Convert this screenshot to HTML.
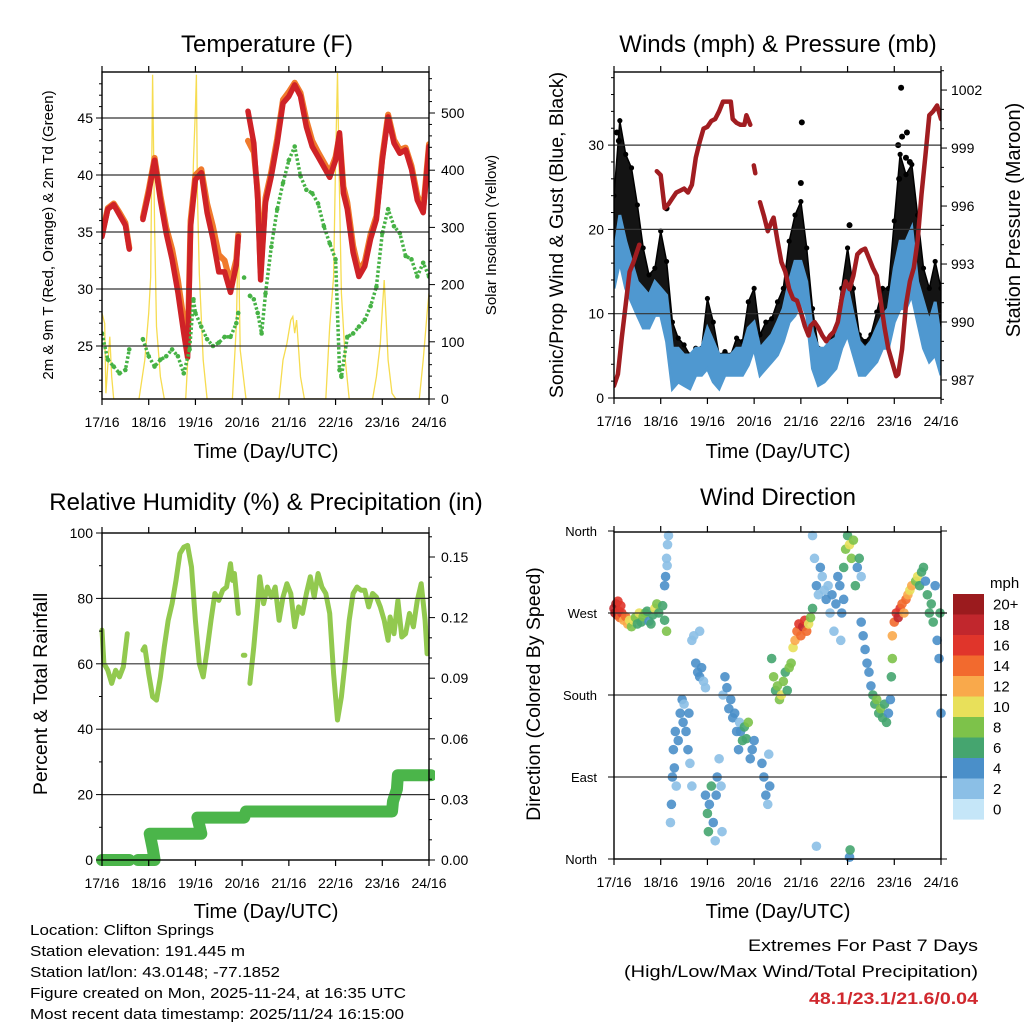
<!DOCTYPE html>
<html><head><meta charset="utf-8"><style>
html,body{margin:0;padding:0;background:#fff;}
svg{display:block;font-family:"Liberation Sans",Arial,sans-serif;}
</style></head><body>
<svg id="fig" width="1024" height="1024" viewBox="0 0 1024 1024" xmlns="http://www.w3.org/2000/svg">
<defs>
<clipPath id="cT"><rect x="102" y="72" width="327" height="327"/></clipPath>
<clipPath id="cW"><rect x="614" y="72" width="327" height="326"/></clipPath>
<clipPath id="cR"><rect x="96" y="527" width="339" height="339"/></clipPath>
<clipPath id="cD"><rect x="608" y="527" width="339" height="338"/></clipPath>
</defs>
<rect x="0" y="0" width="1024" height="1024" fill="#fff"/>

<text x="267" y="52" font-size="24" text-anchor="middle">Temperature (F)</text>
<text x="778" y="52" font-size="24" text-anchor="middle">Winds (mph) &amp; Pressure (mb)</text>
<text x="266" y="510" font-size="24" text-anchor="middle">Relative Humidity (%) &amp; Precipitation (in)</text>
<text x="778" y="505" font-size="24" text-anchor="middle">Wind Direction</text>

<text x="266" y="458" font-size="20" text-anchor="middle">Time (Day/UTC)</text>
<text x="778" y="458" font-size="20" text-anchor="middle">Time (Day/UTC)</text>
<text x="266" y="918" font-size="20" text-anchor="middle">Time (Day/UTC)</text>
<text x="778" y="918" font-size="20" text-anchor="middle">Time (Day/UTC)</text>
<text transform="translate(53,235) rotate(-90)" font-size="15" text-anchor="middle">2m &amp; 9m T (Red, Orange) &amp; 2m Td (Green)</text>
<text transform="translate(496,235) rotate(-90)" font-size="15" text-anchor="middle">Solar Insolation (Yellow)</text>
<text transform="translate(563,235) rotate(-90)" font-size="19.5" text-anchor="middle">Sonic/Prop Wind &amp; Gust (Blue, Black)</text>
<text transform="translate(1020,220) rotate(-90)" font-size="20" text-anchor="middle">Station Pressure (Maroon)</text>
<text transform="translate(47,694) rotate(-90)" font-size="19.5" text-anchor="middle">Percent &amp; Total Rainfall</text>
<text transform="translate(540,694) rotate(-90)" font-size="19.5" text-anchor="middle">Direction (Colored By Speed)</text>

<g id="dataLayer"></g>
<g id="axisLayer" stroke="#000" fill="none"></g>
<g id="labelLayer" font-size="14"></g>

<g id="colorbar"></g>
<text x="990" y="588" font-size="15">mph</text>

<text x="30" y="935" font-size="15" textLength="184" lengthAdjust="spacingAndGlyphs">Location: Clifton Springs</text>
<text x="30" y="956" font-size="15" textLength="215" lengthAdjust="spacingAndGlyphs">Station elevation: 191.445 m</text>
<text x="30" y="977" font-size="15" textLength="250" lengthAdjust="spacingAndGlyphs">Station lat/lon: 43.0148; -77.1852</text>
<text x="30" y="998" font-size="15" textLength="376" lengthAdjust="spacingAndGlyphs">Figure created on Mon, 2025-11-24, at 16:35 UTC</text>
<text x="30" y="1019" font-size="15" textLength="374" lengthAdjust="spacingAndGlyphs">Most recent data timestamp: 2025/11/24 16:15:00</text>
<text x="748" y="951" font-size="17" textLength="230" lengthAdjust="spacingAndGlyphs">Extremes For Past 7 Days</text>
<text x="624" y="977" font-size="17" textLength="354" lengthAdjust="spacingAndGlyphs">(High/Low/Max Wind/Total Precipitation)</text>
<text x="809" y="1004" font-size="17" font-weight="bold" fill="#d0282e" textLength="169" lengthAdjust="spacingAndGlyphs">48.1/23.1/21.6/0.04</text>
</svg>
<script>
const dayLabels = ["17/16","18/16","19/16","20/16","21/16","22/16","23/16","24/16"];
const tempTicks = [25,30,35,40,45];
const solarTicks = [0,100,200,300,400,500];
const windTicks = [0,10,20,30];
const presTicks = [987,990,993,996,999,1002];
const rhTicks = [0,20,40,60,80,100];
const rainTicks = [0,0.03,0.06,0.09,0.12,0.15];
const rainTickLabels = ["0.00","0.03","0.06","0.09","0.12","0.15"];
const dirTicks = [0,90,180,270,360];
const dirTickLabels = ["North","East","South","West","North"];
const speedBins = ["0","2","4","6","8","10","12","14","16","18","20+"];
const speedColors = ["#c5e6f8","#8bbfe6","#4a8fc9","#45a56f","#7dc24a","#e8e05a","#f9a94b","#f26a2e","#e0352b","#c1272d","#9b1b1e"];

const tempT = [0,3,6,9,12,14,17,21,24,27,30,33,36,39,42,44,45.5,48,51,54,57,60,63,66,69,70,72,75,78,80,81.5,84,87,90,93,96,99,102,105,108,111,114,117,120,122,124,126,129,132,135,138,141,144,147,150,153,156,159,162,165,168];
const tempRed = [34.6,37.0,37.4,36.5,35.6,33.5,null,36.1,38.4,41.3,37.8,34.9,32.6,29.7,26.1,24.0,35.5,39.6,40.2,36.7,34.4,31.5,31.5,29.7,32.1,34.6,null,45.6,42.8,37.8,30.8,37.6,39.9,42.8,46.3,46.9,47.9,46.9,44.2,42.5,41.6,40.7,39.8,41.3,43.7,38.4,37.0,33.2,31.1,32.0,34.4,36.1,41.3,45.1,42.8,41.9,42.2,40.5,37.8,36.7,42.5];
const tempOrange = [34.8,37.1,37.5,36.7,35.8,33.6,null,36.3,38.7,41.5,38.2,35.4,33.5,30.8,27.2,24.8,36.0,40.0,40.5,37.5,35.5,33.0,32.5,30.5,32.6,34.8,null,43.0,42.0,38.5,31.5,38.0,40.3,43.2,46.6,47.3,48.1,47.2,44.8,43.0,42.0,41.1,40.2,41.6,43.5,39.0,37.6,33.8,31.6,32.4,34.8,36.4,41.6,45.3,43.1,42.2,42.4,40.8,38.2,37.0,42.7];

const tdT = [0,3,6,9,12,14,17,21,24,27,30,33,36,39,42,45,47,48,51,54,57,60,63,66,69,70,72,73,74,76,78,80,82,84,87,90,93,96,99,102,105,108,111,114,117,120,122,123,126,129,132,135,138,141,144,147,150,153,156,159,162,165,168];
const tdV = [26.1,23.8,23.2,22.6,22.9,24.7,null,25.6,24.1,23.2,23.8,24.1,24.7,24.1,22.6,24.7,29.1,27.9,26.7,25.6,25.0,25.3,25.8,25.8,27.0,27.9,null,31.0,null,29.4,29.1,27.9,26.1,29.6,33.7,37.0,39.3,41.3,42.5,39.9,38.7,38.4,37.5,35.5,34.0,32.6,22.9,22.3,25.8,26.1,26.7,27.3,28.5,30.2,34.9,37.0,35.5,34.9,32.9,32.6,31.1,32.3,31.1];

const solT = [0,1.4,2,4,5,6,19,22,24,25,26,27,28,30,32,43,45,47,48,48.5,49,50,52,54,67,69,70,71,74,91,93,95,97,98,99,100,102,104,115,117,119,120,121,122,123,125,127,139,141,143,144,145,146,147,149,151,163,165,167,168];
const solV = [150,132,10,109,39,0,0,68,150,214,567,301,127,39,0,0,127,418,506,567,360,220,68,0,0,127,290,86,0,0,68,97,138,144,115,138,39,0,0,127,214,418,570,360,185,68,0,0,39,97,156,208,138,68,10,0,0,68,150,185];

const windT = [0,3,6,9,12,15,18,21,24,27,30,33,36,39,42,45,48,51,54,57,60,63,66,69,72,75,78,81,84,87,90,93,96,99,102,105,108,111,114,117,120,123,126,129,132,135,138,141,144,147,150,153,156,159,162,165,168];
const windLo = [13.0,16.2,13.0,11.4,9.8,8.3,8.3,9.8,9.8,6.7,1.1,1.9,1.5,1.1,2.7,2.7,3.5,1.9,1.1,2.7,2.7,2.7,2.7,3.9,5.9,2.7,3.5,4.3,5.1,6.7,9.0,9.8,11.4,9.8,3.5,1.5,1.9,2.7,3.5,5.9,7.5,5.1,2.7,2.7,3.5,4.3,5.9,5.9,9.0,10.6,10.6,12.2,9.0,5.9,4.3,5.1,2.7];
const windHi = [17.0,21.7,18.6,16.2,13.8,13.0,12.2,13.8,13.0,12.2,5.9,5.9,5.1,5.1,5.9,5.9,8.3,6.7,5.1,5.1,5.1,5.9,5.9,8.3,9.0,5.9,6.7,7.5,9.0,10.6,13.8,16.2,16.2,13.8,7.9,5.9,5.9,6.7,7.1,11.0,13.0,9.8,6.7,5.9,6.7,8.3,9.8,10.6,15.4,18.6,18.6,20.2,13.8,11.4,9.0,11.4,6.7];
const gustHi = [24.0,32.9,28.9,27.3,22.9,17.8,14.6,15.4,19.8,16.2,9.0,7.1,6.3,5.1,5.9,5.9,11.8,9.0,5.1,5.5,5.1,7.1,6.7,11.4,13.0,7.5,9.0,9.4,11.4,13.0,18.6,21.7,23.3,17.8,10.6,5.9,5.5,7.1,8.3,13.0,17.8,13.0,7.5,6.7,7.5,10.2,13.0,13.0,21.0,28.9,26.5,27.7,21.7,15.4,13.0,16.2,13.0];
const gustPeakT = [1.5,2.5,27,96.5,96,121,146,147.5,148,150,152,150.5,146.5];
const gustPeakV = [31.5,30.5,22.5,32.7,25.5,20.5,30.0,36.8,31.0,28.5,28.0,31.5,26.0];

const presT = [0,2,4,6,8,10,13,17,22,24,26,28,30,32,34,36,38,40,42,44,46,48,50,52,54,56,58,60,61,63,65,67,68,70,71,71.8,72.6,73,75,77,79,81,82,84,86,88,90,92,94,96,98,100,101,103,105,107,109,111,113,115,117,119,121,123,125,127,129,131,133,135,137,139,141,143,145,146,148,150,152,154,156,158,160,162,164,166,168];
const presV = [986.7,987.3,989.2,990.9,992.6,993.1,994.0,null,997.8,997.6,995.9,996.1,996.4,996.7,996.8,996.9,996.7,997.1,998.5,999.3,1000.0,1000.1,1000.4,1000.5,1000.9,1001.4,1001.4,1001.4,1000.5,1000.3,1000.2,1000.2,1000.7,1000.2,null,998.1,997.7,null,996.2,995.5,994.7,995.2,995.4,994.2,993.1,992.6,991.7,991.2,991.1,990.5,989.8,989.3,989.8,990.0,989.7,989.3,989.0,989.3,989.5,990.0,991.2,992.1,991.7,992.4,993.5,993.7,993.8,993.3,992.8,992.4,991.1,989.7,988.6,987.9,987.2,987.3,988.6,990.9,992.1,992.8,994.2,996.6,998.6,1000.7,1000.9,1001.2,1000.5];

const rhT = [0,1,3,5,7,9,11,13,17,21,22,24,26,28,30,32,34,36,38,40,42,44,46,48,50,52,54,56,58,60,62,64,66,67,68,70,71,72.6,73.4,74,76,78,80,81,83,85,87,89,91,93,95,97,99,101,103,105,107,109,111,113,115,117,119,121,123,125,127,129,131,133,135,137,139,141,143,145,147,148,150,152,154,156,158,160,162,164,166,167];
const rhV = [70.3,60.1,58.0,54.0,58.0,56.0,59.1,69.2,null,64.2,65.2,57.0,49.9,48.9,56.0,65.2,73.3,78.4,85.5,93.7,95.7,96.2,89.6,73.3,60.1,56.0,64.2,73.3,81.5,79.4,82.5,83.5,90.6,85.5,87.6,75.4,null,62.6,62.6,null,54.0,65.2,78.4,86.6,78.4,83.5,80.4,83.5,73.3,80.4,84.5,81.5,71.3,77.4,75.4,81.5,86.6,80.4,87.6,83.5,81.5,75.4,57.0,42.8,49.9,61.1,73.3,81.5,83.5,82.5,82.5,77.4,81.5,80.4,77.4,73.3,67.2,74.3,69.2,79.4,68.2,69.2,75.4,71.3,79.4,84.5,73.3,63.1];

const rainT = [0,14,16,18.5,27,26,24.5,51,49,73,74,149,149.5,151.5,152,169];
const rainV = [0,0,null,0,0,0.006,0.013,0.013,0.021,0.021,0.024,0.024,0.029,0.035,0.042,0.042];

const dirT = [0,0.5,1,1.5,2,2.5,3,3.5,4,5,6,7,8,9,10,11,12,13,14,15,16,17,18,19,20,21,22,23,25,26,27,
26,26.5,27,27.5,28,27.3,
29,29.5,30,30.5,31,31.5,32,33,34,35,35.5,36,37,38,38.5,39,40,
40,41,42,43,44,45,46,47,44,
47,48,48.5,49,50,51,52,52.5,53,54,55,55.5,
56,57,58,59,60,61,62,63,64,64.5,
65,66,67,68,69,70,71,72,
76,77,78,79,79.5,80,
81,82,83,84,85,86,87,88,89,90,91,92,
93,94,95,96,97,98,99,100,101,102,
102,103,104,105,106,107,108,109,110,111,112,113,114,115,116,117,118,116.5,
118,119,120,121,122,123,124,125,126,127,
127,128,129,130,131,132,133,134,135,136,137,138,139,140,141,142,142.5,143,
143,144,145,146,147,148,149,150,151,152,153,
155,156,157,158,159,160,161,162,163,164,165,166,167,168,167.5,
121,121.3,104];
const dirD = [275,270,280,268,283,272,265,278,270,262,266,258,262,255,262,265,258,270,260,266,270,272,261,258,268,275,280,270,278,262,250,
300,310,330,345,355,322,
40,60,90,120,100,140,80,130,160,175,150,170,140,120,160,105,80,
240,245,215,205,200,210,195,188,250,
70,50,30,60,80,40,20,70,90,110,80,30,
180,200,188,165,175,155,160,140,120,150,
140,130,145,132,150,110,120,130,
105,90,70,60,115,80,
220,200,185,190,175,180,195,205,185,210,215,232,
240,250,258,245,255,262,250,258,265,275,
355,330,300,290,320,310,295,285,300,270,290,250,280,310,300,270,285,240,
320,340,355,345,330,350,300,320,330,310,
260,245,230,215,205,190,180,170,175,160,165,155,170,150,160,175,200,220,
245,260,270,265,275,280,270,285,290,295,300,
305,310,300,315,320,305,290,270,280,260,300,240,220,160,270,
2,10,14];
const dirS = [18,20,20,18,16,16,14,16,16,12,14,12,10,8,10,8,6,10,6,7,8,6,4,6,6,10,7,6,6,6,7,
4,3,2,2,2,2,
2,3,4,3,4,3,2,4,3,3,4,2,3,4,3,2,2,
2,2,4,4,4,3,2,2,2,
4,6,6,4,6,4,2,4,3,2,2,2,
2,4,4,4,3,4,4,4,4,2,
4,6,6,6,8,4,4,3,
4,4,4,2,2,4,
6,7,6,8,7,10,8,6,6,8,8,10,
12,14,16,14,18,16,14,10,8,6,
2,2,3,2,4,2,2,4,2,2,4,2,4,4,4,4,4,2,
6,8,6,10,7,8,6,4,6,2,
4,4,4,4,4,4,5,6,7,6,8,6,6,6,4,4,5,7,
12,14,16,18,16,14,12,14,12,10,12,
8,10,6,6,6,4,6,6,6,6,4,4,4,4,6,
4,6,2];

const NS = "http://www.w3.org/2000/svg";
const dataLayer = document.getElementById('dataLayer');
const axisLayer = document.getElementById('axisLayer');
const labelLayer = document.getElementById('labelLayer');
const LX0 = 102, RX0 = 614, PW = 327;
function xL(t){ return LX0 + t * PW / 168; }
function xR(t){ return RX0 + t * PW / 168; }
function yTemp(v){ return 346 - (v - 25) * 11.4; }
function ySolar(v){ return 399 - v * 0.572; }
function yWind(v){ return 398 - v * 8.43; }
function yPres(v){ return 380 - (v - 987) * 19.33; }
function yRH(v){ return 860 - v * 3.27; }
function yRain(v){ return 860 - v * 2020; }
function yDir(v){ return 859 - v * 0.9111; }
function mk(tag, parent){ const e = document.createElementNS(NS, tag); parent.appendChild(e); return e; }
function pathFrom(ts, vs, fx, fy){
  let d = "", pen = false;
  for (let i = 0; i < ts.length; i++){
    if (vs[i] === null){ pen = false; continue; }
    d += (pen ? "L" : "M") + fx(ts[i]).toFixed(1) + " " + fy(vs[i]).toFixed(1) + " ";
    pen = true;
  }
  return d;
}
function speedColor(s){
  let i = Math.round(s / 2);
  if (i > 10) i = 10; if (i < 0) i = 0;
  return speedColors[i];
}
function group(clip){ const g = mk('g', dataLayer); g.setAttribute('clip-path', 'url(#' + clip + ')'); return g; }

const gT = group('cT');
const solar = mk('path', gT);


solar.setAttribute('d', pathFrom(solT, solV, xL, ySolar));
solar.setAttribute('fill', 'none'); solar.setAttribute('stroke', '#f6dc50'); solar.setAttribute('stroke-width', '1.3');

const orange = mk('path', gT);


orange.setAttribute('d', pathFrom(tempT, tempOrange, xL, yTemp));
orange.setAttribute('fill', 'none'); orange.setAttribute('stroke', '#f07a2c'); orange.setAttribute('stroke-width', '6'); orange.setAttribute('stroke-linejoin', 'round'); orange.setAttribute('stroke-linecap', 'round');

const red = mk('path', gT);


red.setAttribute('d', pathFrom(tempT, tempRed, xL, yTemp));
red.setAttribute('fill', 'none'); red.setAttribute('stroke', '#cf2227'); red.setAttribute('stroke-width', '5.5'); red.setAttribute('stroke-linejoin', 'round'); red.setAttribute('stroke-linecap', 'round');

const td = mk('path', gT);


td.setAttribute('d', pathFrom(tdT, tdV, xL, yTemp));
td.setAttribute('fill', 'none'); td.setAttribute('stroke', '#46b245'); td.setAttribute('stroke-width', '3.5'); td.setAttribute('stroke-dasharray', '2.5 2'); td.setAttribute('stroke-linejoin', 'round');
for (let i = 0; i < tdT.length; i++){
  if (tdV[i] === null) continue;
  const c = mk('circle', gT);
  
  
  c.setAttribute('cx', xL(tdT[i])); c.setAttribute('cy', yTemp(tdV[i])); c.setAttribute('r', '2.3'); c.setAttribute('fill', '#46b245');
}

const gW = group('cW');
function bandPath(ts, lo, hi, fx, fy){
  let d = "";
  for (let i = 0; i < ts.length; i++) d += (i ? "L" : "M") + fx(ts[i]).toFixed(1) + " " + fy(hi[i]).toFixed(1) + " ";
  for (let i = ts.length - 1; i >= 0; i--) d += "L" + fx(ts[i]).toFixed(1) + " " + fy(lo[i]).toFixed(1) + " ";
  return d + "Z";
}
const gust = mk('path', gW);


gust.setAttribute('d', bandPath(windT, windLo, gustHi, xR, yWind));
gust.setAttribute('fill', '#000'); gust.setAttribute('fill-opacity', '0.92'); gust.setAttribute('stroke', '#000'); gust.setAttribute('stroke-width', '1.5');
for (let i = 0; i < windT.length; i++){
  const c = mk('circle', gW);
  
  
  c.setAttribute('cx', xR(windT[i])); c.setAttribute('cy', yWind(gustHi[i])); c.setAttribute('r', '2.6'); c.setAttribute('fill', '#000');
}
for (let i = 0; i < gustPeakT.length; i++){
  const c = mk('circle', gW);
  
  
  c.setAttribute('cx', xR(gustPeakT[i])); c.setAttribute('cy', yWind(gustPeakV[i])); c.setAttribute('r', '3'); c.setAttribute('fill', '#000');
}
const wind = mk('path', gW);


wind.setAttribute('d', bandPath(windT, windLo, windHi, xR, yWind));
wind.setAttribute('fill', '#4f98d0'); wind.setAttribute('stroke', '#4f98d0'); wind.setAttribute('stroke-width', '3');

const pres = mk('path', gW);


pres.setAttribute('d', pathFrom(presT, presV, xR, yPres));
pres.setAttribute('fill', 'none'); pres.setAttribute('stroke', '#a11d21'); pres.setAttribute('stroke-width', '4.5'); pres.setAttribute('stroke-linejoin', 'round'); pres.setAttribute('stroke-linecap', 'round');

const gR = group('cR');
const rh = mk('path', gR);


rh.setAttribute('d', pathFrom(rhT, rhV, xL, yRH));
rh.setAttribute('fill', 'none'); rh.setAttribute('stroke', '#92c94f'); rh.setAttribute('stroke-width', '5'); rh.setAttribute('stroke-linejoin', 'round'); rh.setAttribute('stroke-linecap', 'round');
const rain = mk('path', gR);


rain.setAttribute('d', pathFrom(rainT, rainV, xL, yRain));
rain.setAttribute('fill', 'none'); rain.setAttribute('stroke', '#4bb54a'); rain.setAttribute('stroke-width', '12'); rain.setAttribute('stroke-linejoin', 'round'); rain.setAttribute('stroke-linecap', 'round');

const gD = group('cD');
for (let i = 0; i < dirT.length; i++){
  const c = mk('circle', gD);
  
  
  c.setAttribute('cx', xR(dirT[i])); c.setAttribute('cy', yDir(dirD[i])); c.setAttribute('r', '4.8');
  c.setAttribute('fill', speedColor(dirS[i])); c.setAttribute('fill-opacity', '0.9');
}

function line(x1, y1, x2, y2, w, col, name){
  const l = mk('line', axisLayer);
  
  
  l.setAttribute('x1', x1); l.setAttribute('y1', y1); l.setAttribute('x2', x2); l.setAttribute('y2', y2);
  l.setAttribute('stroke-width', w); l.setAttribute('stroke', col || '#000');
}
function txt(x, y, s, anchor, size, name){
  const t = mk('text', labelLayer);
  
  
  t.setAttribute('x', x); t.setAttribute('y', y); t.setAttribute('text-anchor', anchor);
  if (size) t.setAttribute('font-size', size);
  t.textContent = s;
}
function frame(x0, y0, w, h, name){
  const r = mk('rect', axisLayer);
  
  
  r.setAttribute('x', x0); r.setAttribute('y', y0); r.setAttribute('width', w); r.setAttribute('height', h);
  r.setAttribute('stroke-width', '1.4');
}
function xAxis(x0, y0, y1, fx){
  for (let k = 0; k < dayLabels.length; k++){
    const x = fx(k * 24);
    line(x, y0, x, y0 - 6, 1.2, '#000', 'x-tick-top');
    line(x, y1, x, y1 + 6, 1.2, '#000', 'x-tick-bottom');
    txt(x, y1 + 28, dayLabels[k], 'middle', 14, 'x-tick-label');
  }
}
for (const v of tempTicks) line(LX0, yTemp(v), LX0 + PW, yTemp(v), 1.2, '#333', 'temperature-gridline');
frame(LX0, 72, PW, 327, 'temperature-plot-frame');
xAxis(LX0, 72, 399, xL);
for (let v = 21; v <= 48; v++){ const y = yTemp(v); line(LX0, y, LX0 - (v % 5 ? 3 : 6), y, 1, '#000', 'temperature-y-tick'); }
for (const v of tempTicks) txt(93, yTemp(v) + 5, String(v), 'end', 14, 'temperature-y-tick-label');
for (let v = 0; v <= 560; v += 20){ const y = ySolar(v); line(LX0 + PW, y, LX0 + PW + (v % 100 ? 3 : 6), y, 1, '#000', 'solar-y-tick'); }
for (const v of solarTicks) txt(441, ySolar(v) + 5, String(v), 'start', 14, 'solar-y-tick-label');
for (const v of windTicks.slice(1)) line(RX0, yWind(v), RX0 + PW, yWind(v), 1.2, '#333', 'wind-gridline');
frame(RX0, 72, PW, 326, 'winds-plot-frame');
xAxis(RX0, 72, 398, xR);
for (let v = 0; v <= 38; v += 2){ const y = yWind(v); line(RX0, y, RX0 - (v % 10 ? 3 : 6), y, 1, '#000', 'wind-y-tick'); }
for (const v of windTicks) txt(604, yWind(v) + 5, String(v), 'end', 14, 'wind-y-tick-label');
for (let v = 986; v <= 1003; v++){ const y = yPres(v); line(RX0 + PW, y, RX0 + PW + (v % 3 ? 3 : 6), y, 1, '#000', 'pressure-y-tick'); }
for (const v of presTicks) txt(951, yPres(v) + 5, String(v), 'start', 14, 'pressure-y-tick-label');
for (const v of [20,40,60,80]) line(LX0, yRH(v), LX0 + PW, yRH(v), 1.2, '#333', 'humidity-gridline');
frame(LX0, 533, PW, 327, 'humidity-plot-frame');
xAxis(LX0, 533, 860, xL);
for (let v = 0; v <= 100; v += 10){ const y = yRH(v); line(LX0, y, LX0 - (v % 20 ? 3 : 6), y, 1, '#000', 'humidity-y-tick'); }
for (const v of rhTicks) txt(93, yRH(v) + 5, String(v), 'end', 14, 'humidity-y-tick-label');
for (let v = 0; v <= 0.16; v += 0.01){ const y = yRain(v); line(LX0 + PW, y, LX0 + PW + (Math.round(v * 100) % 3 ? 3 : 6), y, 1, '#000', 'rain-y-tick'); }
for (let i = 0; i < rainTicks.length; i++) txt(441, yRain(rainTicks[i]) + 5, rainTickLabels[i], 'start', 14, 'rain-y-tick-label');
for (const v of [90,180,270]) line(RX0, yDir(v), RX0 + PW + 6, yDir(v), 1.2, '#333', 'direction-gridline');
frame(RX0, 532, PW, 327, 'direction-plot-frame');
xAxis(RX0, 532, 859, xR);
for (let i = 0; i < dirTicks.length; i++){
  const y = yDir(dirTicks[i]);
  line(RX0 - 6, y, RX0, y, 1, '#000', 'direction-y-tick');
  line(RX0 + PW, y, RX0 + PW + 6, y, 1, '#000', 'direction-y-tick-right');
  txt(597, y + 5, dirTickLabels[i], 'end', 13, 'direction-y-tick-label');
}

const cb = document.getElementById('colorbar');
for (let i = 0; i < speedBins.length; i++){
  const k = speedBins.length - 1 - i;
  const r = mk('rect', cb);
  
  
  r.setAttribute('x', 953); r.setAttribute('y', 594 + i * 20.5); r.setAttribute('width', 31); r.setAttribute('height', 20.6);
  r.setAttribute('fill', speedColors[k]);
  const t = mk('text', cb);
  
  
  t.setAttribute('x', 993); t.setAttribute('y', 594 + i * 20.5 + 15.5); t.setAttribute('font-size', '15');
  t.textContent = speedBins[k];
}
</script>
</body></html>
